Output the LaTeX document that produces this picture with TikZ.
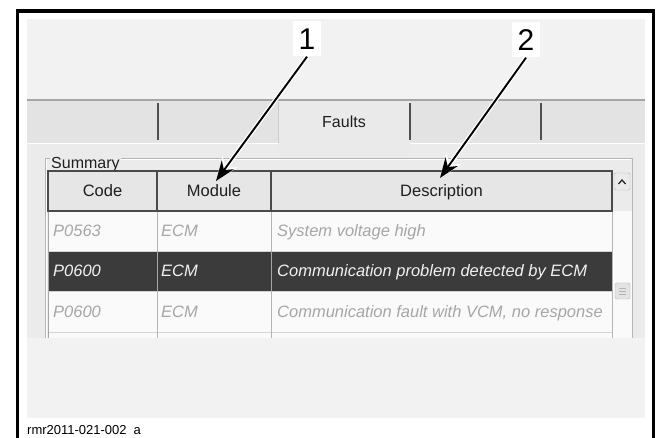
\documentclass[tikz,border=0pt]{standalone}
\usepackage{fontspec}
\setmainfont{Liberation Sans}
\usetikzlibrary{arrows.meta}

\definecolor{paneBg}{HTML}{F2F2F2}
\definecolor{tabFill}{HTML}{E3E3E3}
\definecolor{tabSel}{HTML}{EAEAEA}
\definecolor{panelFill}{HTML}{EBEBEB}
\definecolor{tabEdge}{HTML}{A6A6A6}
\definecolor{divLine}{HTML}{505050}
\definecolor{grpLine}{HTML}{B4B4B4}
\definecolor{hdrFill}{HTML}{E6E6E6}
\definecolor{hdrLine}{HTML}{4A4A4A}
\definecolor{hdrText}{HTML}{1E1E1E}
\definecolor{rowFill}{HTML}{FAFAFA}
\definecolor{rowText}{HTML}{A6A6A6}
\definecolor{selFill}{HTML}{3B3B3B}
\definecolor{selText}{HTML}{F2F2F2}
\definecolor{rowLine}{HTML}{D4D4D4}

\begin{document}
\begin{tikzpicture}[x=1pt, y=-1pt,
  uitext/.style={anchor=base, inner sep=0pt, text=hdrText, font=\fontsize{16.5}{18}\selectfont},
  celltxt/.style={anchor=base west, inner sep=0pt, text=rowText, font=\fontsize{16.5}{18}\selectfont\itshape},
  seltxt/.style={celltxt, text=selText},
  hdrcell/.style={draw=hdrLine, line width=1.2pt, fill=hdrFill},
  num/.style={fill=white, inner sep=0pt, minimum width=28pt, minimum height=35pt, font=\fontsize{30}{32}\selectfont},
  halo/.style={white, line width=4.5pt, -{Stealth[length=24pt, width=19pt]}},
  pointer/.style={black, line width=1.9pt, -{Stealth[length=20pt, width=15pt]}}]

  % --- 1. 枠と背景 ---
  \fill[white] (0,0) rectangle (662,438);
  \useasboundingbox (0,0) rectangle (662,438);
  \fill[paneBg] (27,19) rectangle (645,418);
  \draw[line width=3.2pt] (17.5,438) -- (17.5,11) -- (653.5,11) -- (653.5,438);

  % --- 2. タブ ---
  \fill[tabFill] (27,100) rectangle (645,143);
  \fill[panelFill] (27,143) rectangle (645,338);
  \fill[tabSel] (278,101) rectangle (410,155);
  \draw[tabEdge, line width=1.5pt] (27,100) -- (645,100);
  \draw[white, line width=1pt] (27,143.5) -- (278,143.5) (410,143.5) -- (645,143.5);
  \draw[gray!40, line width=0.8pt] (278,102) -- (278,143);
  \draw[divLine, line width=1.3pt] (158,103) -- (158,140) (410,103) -- (410,140) (541,103) -- (541,140);
  \node[uitext, font=\fontsize{16}{18}\selectfont] (Faults) at (344,128) {Faults};

  % --- 3. Summary 枠 ---
  \draw[grpLine] (50,158) -- (45,158) -- (45,338);
  \draw[grpLine] (121,158) -- (632,158) -- (632,338);
  \draw[white] (46,159) -- (46,338) (121,159) -- (631,159);
  \node[anchor=base west, inner sep=0pt, text=hdrText, font=\fontsize{16}{18}\selectfont] (Summary) at (51,169) {Summary};

  % --- 4. 表 ---
  \fill[rowFill] (48,211) rectangle (632,338);
  \fill[selFill] (48,251) rectangle (612,291);
  \draw[rowLine] (48,251) -- (612,251) (48,291) -- (612,291) (48,332) -- (612,332);
  \draw[rowLine!85!black] (157,211) -- (157,338) (271,211) -- (271,338) (612,211) -- (612,338);
  \draw[gray!70, line width=1pt] (48,211) -- (48,338);
  \draw[gray!70] (157,251) -- (157,291) (271,251) -- (271,291);
  \draw[hdrcell] (48,171) rectangle (157,211);
  \draw[hdrcell] (157,171) rectangle (271,211);
  \draw[hdrcell] (271,171) rectangle (612,211);
  \node[uitext] (HCode) at (102.5,197) {Code};
  \node[uitext] (HModule) at (214,197) {Module};
  \node[uitext] (HDesc) at (441.5,197) {Description};

  % 行
  \node[celltxt] (C1) at (53,237) {P0563};
  \node[celltxt] (M1) at (161,237) {ECM};
  \node[celltxt] (D1) at (277,237) {System voltage high};
  \node[seltxt] (C2) at (53,277) {P0600};
  \node[seltxt] (M2) at (161,277) {ECM};
  \node[seltxt] (D2) at (277,277) {Communication problem detected by ECM};
  \node[celltxt] (C3) at (53,317.5) {P0600};
  \node[celltxt] (M3) at (161,317.5) {ECM};
  \node[celltxt] (D3) at (277,317.5) {Communication fault with VCM, no response};

  % スクロールバー
  \draw[grpLine, fill=tabSel, rounded corners=1.5pt] (614,173) rectangle (630,190);
  \draw[hdrText, line width=1.2pt] (618.5,184) -- (622,180) -- (625.5,184);
  \draw[grpLine, fill=tabFill, rounded corners=1.5pt] (615,283) rectangle (630,299);
  \draw[grpLine] (619,288) -- (626,288) (619,291) -- (626,291) (619,294) -- (626,294);

  % --- 5. 番号と矢印 ---
  \node[num] (L1) at (307,39) {1};
  \node[num] (L2) at (526,40) {2};
  \coordinate (Tip1) at (216,181);
  \coordinate (Tip2) at (440,178);
  \draw[halo] (L1.south) -- (Tip1);
  \draw[halo] (L2.south) -- (Tip2);
  \draw[pointer] (L1.south) -- (Tip1);
  \draw[pointer] (L2.south) -- (Tip2);

  % 図番
  \node[anchor=base west, inner sep=0pt, font=\fontsize{13}{14}\selectfont] (Caption) at (27,434.5) {rmr2011-021-002\hspace{7pt}a};

\end{tikzpicture}
\end{document}
